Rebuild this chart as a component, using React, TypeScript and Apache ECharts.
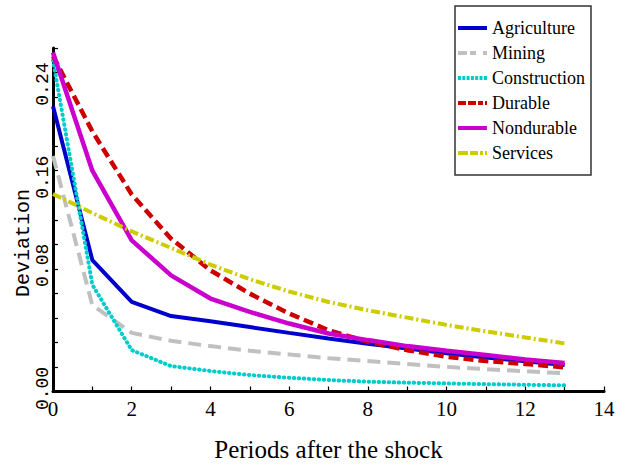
import React, { useEffect, useRef } from "react";
import * as echarts from "echarts";

// Periods after the shock (x values of each point)
const periods = [0, 1, 2, 3, 4, 5, 6, 7, 8, 9, 10, 11, 12, 13];

const seriesNames = ["Agriculture", "Mining", "Construction", "Durable", "Nondurable", "Services"];

const agriculture = [0.2325, 0.107, 0.073, 0.0615, 0.0572, 0.0525, 0.0478, 0.0432, 0.039, 0.035, 0.0312, 0.0278, 0.0246, 0.0216];
const mining = [0.192, 0.0703, 0.0478, 0.0413, 0.037, 0.0332, 0.0302, 0.0272, 0.0248, 0.0224, 0.0201, 0.0182, 0.0165, 0.0148];
const construction = [0.27, 0.087, 0.0337, 0.0207, 0.0167, 0.0134, 0.0112, 0.0094, 0.008, 0.0072, 0.0066, 0.006, 0.0055, 0.005];
const durable = [0.2736, 0.212, 0.1606, 0.1246, 0.0988, 0.0798, 0.0636, 0.05, 0.0405, 0.0337, 0.0283, 0.0248, 0.0225, 0.0197];
const nondurable = [0.2763, 0.18, 0.1232, 0.0947, 0.0758, 0.0649, 0.0554, 0.0473, 0.0419, 0.037, 0.0332, 0.0297, 0.026, 0.0232];
const services = [0.161, 0.1455, 0.1305, 0.117, 0.1035, 0.0915, 0.0815, 0.073, 0.0662, 0.0602, 0.0543, 0.049, 0.0441, 0.0392];

const yTickValues = [0, 0.08, 0.16, 0.24];
const yTickTexts = ["0.00", "0.08", "0.16", "0.24"];
const xTickValues = [0, 2, 4, 6, 8, 10, 12, 14];

const seriesValues = [agriculture, mining, construction, durable, nondurable, services];
const seriesColors = ["#0000cc", "#c0c0c0", "#00cccc", "#cc0000", "#cc00cc", "#cccc00"];
const seriesLineStyles: any[] = [
  { width: 4, type: "solid" },
  { width: 4, type: [13, 7] },
  { width: 4, type: [0.5, 4.5], cap: "round" },
  { width: 4.5, type: [10, 5] },
  { width: 4.5, type: "solid" },
  { width: 4, type: [9, 3, 2, 3] },
];
// legend sample shapes (dash patterns drawn as small bars, 29 x 4)
const legendIcons = [
  "path://M0 0H29V4H0Z",
  "path://M0 0H9V4H0ZM12 0H18V4H12ZM25 0H29V4H25Z",
  "path://M0 0H3V4H0ZM4.3 0H7.3V4H4.3ZM8.6 0H11.6V4H8.6ZM12.9 0H15.9V4H12.9ZM17.2 0H20.2V4H17.2ZM21.5 0H24.5V4H21.5ZM25.8 0H29V4H25.8Z",
  "path://M0 0H8V4H0ZM10 0H18V4H10ZM20 0H25V4H20ZM27 0H29V4H27Z",
  "path://M0 0H29V4H0Z",
  "path://M0 0H10V4H0ZM12 0H20V4H12ZM22 0H25V4H22ZM27 0H29V4H27Z",
];

export default function App() {
  const ref = useRef<HTMLDivElement>(null);
  useEffect(() => {
    document.body.style.margin = "0";
    const chart = echarts.init(ref.current!, null, { renderer: "svg" });
    const axisLine = { show: true, lineStyle: { color: "#000", width: 3 } };
    const axisTick = { show: true, inside: true, length: 5, lineStyle: { color: "#000", width: 1.2 } };
    const yRich: any = {
      l0: { padding: [0, 0, 0, 6], fontFamily: "Liberation Mono", fontSize: 18, color: "#000" },
      l1: { padding: [0, 0, 0, 56], fontFamily: "Liberation Mono", fontSize: 18, color: "#000" },
      l2: { padding: [0, 0, 0, 36], fontFamily: "Liberation Mono", fontSize: 18, color: "#000" },
      l3: { padding: [0, 0, 0, 26], fontFamily: "Liberation Mono", fontSize: 18, color: "#000" },
    };
    chart.setOption({
      animation: false,
      backgroundColor: "#ffffff",
      grid: { left: 53, right: 22, top: 48, bottom: 77.5 },
      legend: {
        orient: "vertical",
        left: 455,
        top: 6,
        padding: [13, 6, 13, 3],
        itemGap: 7,
        itemWidth: 29,
        itemHeight: 4,
        backgroundColor: "#ffffff",
        borderColor: "#333333",
        borderWidth: 1.5,
        borderRadius: 0,
        textStyle: { fontFamily: "Liberation Serif", fontSize: 18, color: "#000" },
        data: seriesNames.map((name, k) => ({ name, icon: legendIcons[k] })),
      },
      xAxis: {
        type: "value",
        min: 0,
        max: 14,
        interval: 1,
        axisLine,
        axisTick,
        splitLine: { show: false },
        axisLabel: {
          color: "#000",
          fontFamily: "Liberation Serif",
          fontSize: 21,
          margin: 7,
          formatter: (v: number) => (xTickValues.includes(v) ? String(v) : ""),
        },
        name: "Periods after the shock",
        nameLocation: "middle",
        nameGap: 45,
        nameTextStyle: { fontFamily: "Liberation Serif", fontSize: 25, color: "#000" },
      },
      yAxis: {
        type: "value",
        min: 0,
        max: 0.28,
        interval: 0.02,
        axisLine,
        axisTick,
        splitLine: { show: false },
        axisLabel: {
          rotate: 90,
          color: "#000",
          fontFamily: "Liberation Mono",
          fontSize: 18,
          margin: 1,
          align: "center",
          verticalAlign: "bottom",
          rich: yRich,
          formatter: (v: number) => {
            const i = yTickValues.findIndex((t) => Math.abs(t - v) < 1e-6);
            return i >= 0 ? `{l${i}|${yTickTexts[i]}}` : "";
          },
        },
      },
      graphic: [
        {
          type: "text",
          x: 23,
          y: 243,
          rotation: Math.PI / 2,
          style: {
            text: "Deviation",
            font: '20px "Liberation Mono"',
            fill: "#000",
            align: "center",
            verticalAlign: "middle",
          },
        },
      ],
      series: seriesNames.map((name, k) => ({
        name,
        type: "line",
        symbol: "none",
        showSymbol: false,
        color: seriesColors[k],
        lineStyle: { color: seriesColors[k], ...seriesLineStyles[k] },
        data: periods.map((x, i) => [x, seriesValues[k][i]]),
      })),
    });
    return () => chart.dispose();
  }, []);
  return <div ref={ref} style={{ width: 626, height: 469 }} />;
}
